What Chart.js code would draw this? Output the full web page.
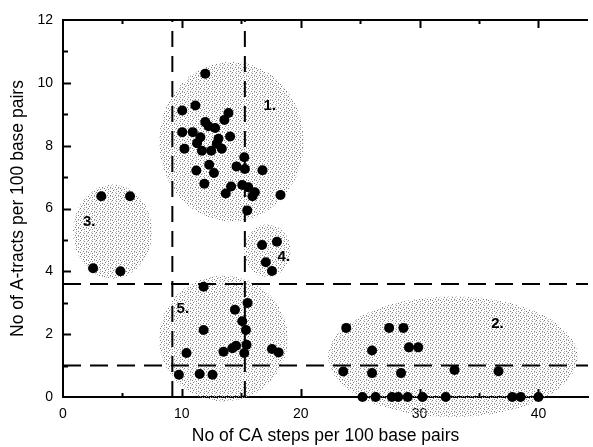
<!DOCTYPE html>
<html>
<head>
<meta charset="utf-8">
<title>A-tracts vs CA steps</title>
<script src="https://cdn.jsdelivr.net/npm/chart.js@4.4.1/dist/chart.umd.min.js"></script>
<style>
  html, body { margin: 0; padding: 0; background: #fff; }
  #wrap { position: relative; width: 593px; height: 447px; }
</style>
</head>
<body>
<div id="wrap"><canvas id="chart"></canvas></div>
<script>
/* ---------- Data ---------- */
// cluster 1: upper middle group
var c1X = [11.97, 10.03, 11.14, 13.92, 13.58, 11.97, 12.25, 12.8, 10.03, 10.92, 11.56, 14.06,
           13.08, 11.28, 12.94, 10.22, 11.69, 12.47, 13.36, 15.25, 12.3, 14.6, 15.3, 11.22,
           12.7, 16.78, 11.89, 14.14, 15.08, 15.58, 13.69, 16.14, 15.94, 18.3, 15.5];
var c1Y = [10.29, 9.12, 9.28, 9.04, 8.82, 8.75, 8.62, 8.56, 8.43, 8.43, 8.27, 8.29,
           8.22, 8.08, 8.06, 7.9, 7.84, 7.84, 7.9, 7.63, 7.39, 7.34, 7.26, 7.21,
           7.13, 7.22, 6.79, 6.7, 6.75, 6.68, 6.48, 6.52, 6.39, 6.43, 5.94];
// cluster 2: right, low A-tracts
var c2X = [23.83, 27.44, 28.64, 26.0, 29.11, 29.89, 23.58, 26.0, 28.44, 32.94, 36.64,
           25.2, 26.3, 27.67, 28.2, 29.0, 30.25, 32.2, 37.8, 38.5, 40.0];
var c2Y = [2.2, 2.2, 2.2, 1.48, 1.58, 1.58, 0.81, 0.76, 0.76, 0.86, 0.82,
           0, 0, 0, 0, 0, 0, 0, 0, 0, 0];
// cluster 3: left
var c3X = [3.22, 5.64, 2.53, 4.83];
var c3Y = [6.39, 6.39, 4.1, 4.0];
// cluster 4: small group
var c4X = [16.75, 18.0, 17.06, 17.58];
var c4Y = [4.84, 4.94, 4.29, 4.01];
// cluster 5: lower middle
var c5X = [11.83, 15.53, 14.47, 15.08, 11.83, 15.39, 10.39, 13.5, 14.25, 14.56, 15.44,
           15.25, 17.58, 18.14, 9.75, 11.5, 12.58];
var c5Y = [3.51, 2.99, 2.78, 2.41, 2.13, 2.13, 1.4, 1.44, 1.55, 1.63, 1.66,
           1.4, 1.53, 1.42, 0.71, 0.73, 0.71];

// dashed cut-offs
var cutX = [9.2, 15.3];
var cutY = [3.6, 1.0];

// shaded cluster regions (data units)
var clusterNames = ['1.', '2.', '3.', '4.', '5.'];
var regionCx = [14.17, 32.8, 4.17, 17.2, 13.5];
var regionCy = [8.13, 1.28, 5.26, 4.66, 1.86];
var regionRx = [6.08, 10.5, 3.33, 1.95, 5.42];
var regionRy = [2.54, 1.92, 1.5, 0.84, 2.0];
var labelX = [17.4, 36.55, 2.2, 18.58, 10.08];
var labelY = [9.27, 2.32, 5.58, 4.45, 2.8];

// ticks
var xMajor = [0, 10, 20, 30, 40];
var xMinor = [5, 15, 25, 35];
var yMajor = [0, 2, 4, 6, 8, 10, 12];
var yMinor = [1, 3, 5, 7, 9, 11];

var X_MAX = 44.17;
var Y_MAX = 12;

/* ---------- helpers ---------- */
function pts(xs, ys) {
  return xs.map(function (x, i) { return { x: x, y: ys[i] }; });
}

// irregular dot texture for the shaded regions
var STIPPLE = [
  '#..+....',
  '....#..+',
  '.+......',
  '...#..#.',
  '#.....+.',
  '..+.#...',
  '.#......',
  '....+.#.'
];
function stipple(ctx) {
  var c = document.createElement('canvas');
  c.width = 8; c.height = 8;
  var g = c.getContext('2d');
  STIPPLE.forEach(function (row, y) {
    for (var x = 0; x < row.length; x++) {
      if (row[x] === '#') { g.fillStyle = '#7c7c7c'; g.fillRect(x, y, 1, 1); }
      else if (row[x] === '+') { g.fillStyle = '#bdbdbd'; g.fillRect(x, y, 1, 1); }
    }
  });
  return ctx.createPattern(c, 'repeat');
}

var allX = [].concat(c1X, c2X, c3X, c4X, c5X);
var allY = [].concat(c1Y, c2Y, c3Y, c4Y, c5Y);

var datasets = [{
  label: 'sequences',
  data: pts(allX, allY),
  pointRadius: 5,
  pointHoverRadius: 5,
  backgroundColor: '#000',
  borderWidth: 0,
  clip: false,
  order: 0
}];
cutX.forEach(function (v) {
  datasets.push({
    type: 'line', data: [{ x: v, y: 0 }, { x: v, y: Y_MAX }],
    borderColor: '#000', borderWidth: 2, borderDash: [16, 9],
    pointRadius: 0, fill: false, order: 1
  });
});
cutY.forEach(function (v) {
  datasets.push({
    type: 'line', data: [{ x: 0, y: v }, { x: X_MAX, y: v }],
    borderColor: '#000', borderWidth: 2, borderDash: [18, 9],
    pointRadius: 0, fill: false, order: 1
  });
});

/* ---------- plugin: shaded regions, labels, inward ticks ---------- */
var decorPlugin = {
  id: 'decor',
  beforeDatasetsDraw: function (chart) {
    var ctx = chart.ctx, xs = chart.scales.x, ys = chart.scales.y;
    ctx.save();
    ctx.fillStyle = stipple(ctx);
    for (var i = 0; i < regionCx.length; i++) {
      var cx = xs.getPixelForValue(regionCx[i]);
      var cy = ys.getPixelForValue(regionCy[i]);
      var rx = Math.abs(xs.getPixelForValue(regionCx[i] + regionRx[i]) - cx);
      var ry = Math.abs(ys.getPixelForValue(regionCy[i] + regionRy[i]) - cy);
      ctx.beginPath();
      ctx.ellipse(cx, cy, rx, ry, 0, 0, Math.PI * 2);
      ctx.fill();
    }
    ctx.restore();
  },
  afterDatasetsDraw: function (chart) {
    var ctx = chart.ctx, xs = chart.scales.x, ys = chart.scales.y, a = chart.chartArea;
    ctx.save();
    ctx.strokeStyle = '#000';
    ctx.lineWidth = 2;
    // top frame
    ctx.beginPath();
    ctx.moveTo(a.left, a.top);
    ctx.lineTo(a.right, a.top);
    ctx.stroke();
    // inward ticks
    function xt(vals, len) {
      vals.forEach(function (v) {
        var px = Math.round(xs.getPixelForValue(v)) + 0.5;
        ctx.beginPath();
        ctx.moveTo(px, a.bottom); ctx.lineTo(px, a.bottom - len);
        ctx.moveTo(px, a.top); ctx.lineTo(px, a.top + len);
        ctx.stroke();
      });
    }
    function yt(vals, len) {
      vals.forEach(function (v) {
        var py = Math.round(ys.getPixelForValue(v)) + 0.5;
        ctx.beginPath();
        ctx.moveTo(a.left, py); ctx.lineTo(a.left + len, py);
        ctx.stroke();
      });
    }
    xt(xMajor.slice(1), 8);
    xt(xMinor, 4);
    yt(yMajor.slice(1, -1), 8);
    yt(yMinor, 5);
    // cluster labels
    ctx.fillStyle = '#000';
    ctx.font = 'bold 15px "Liberation Sans", Arial, sans-serif';
    ctx.textAlign = 'center';
    ctx.textBaseline = 'middle';
    clusterNames.forEach(function (t, i) {
      ctx.fillText(t, xs.getPixelForValue(labelX[i]), ys.getPixelForValue(labelY[i]));
    });
    ctx.restore();
  }
};

Chart.defaults.font.family = '"Liberation Sans", Arial, Helvetica, sans-serif';
Chart.defaults.color = '#000';

new Chart(document.getElementById('chart'), {
  type: 'scatter',
  data: { datasets: datasets },
  plugins: [decorPlugin],
  options: {
    responsive: true,
    maintainAspectRatio: false,
    animation: false,
    devicePixelRatio: 1,
    layout: { padding: { top: 20, right: 0, bottom: 0, left: 0 } },
    plugins: { legend: { display: false }, tooltip: { enabled: false } },
    scales: {
      x: {
        type: 'linear', min: 0, max: X_MAX,
        afterBuildTicks: function (s) { s.ticks = xMajor.map(function (v) { return { value: v }; }); },
        afterFit: function (s) { s.height = 50; },
        ticks: { font: { size: 14 }, color: '#000', padding: 9, maxRotation: 0 },
        grid: { display: false, drawTicks: false },
        border: { display: true, color: '#000', width: 2 },
        title: {
          display: true, text: 'No of CA steps per 100 base pairs',
          font: { size: 17.5 }, color: '#000', padding: { top: 0, bottom: 0 }
        }
      },
      y: {
        type: 'linear', min: 0, max: Y_MAX,
        afterBuildTicks: function (s) { s.ticks = yMajor.map(function (v) { return { value: v }; }); },
        afterFit: function (s) { s.width = 63; },
        ticks: { font: { size: 14 }, color: '#000', padding: 10 },
        grid: { display: false, drawTicks: false },
        border: { display: true, color: '#000', width: 2 },
        title: {
          display: true, text: 'No of A-tracts per 100 base pairs',
          font: { size: 17.5 }, color: '#000', padding: { top: 8, bottom: 0 }
        }
      }
    }
  }
});
</script>
</body>
</html>
